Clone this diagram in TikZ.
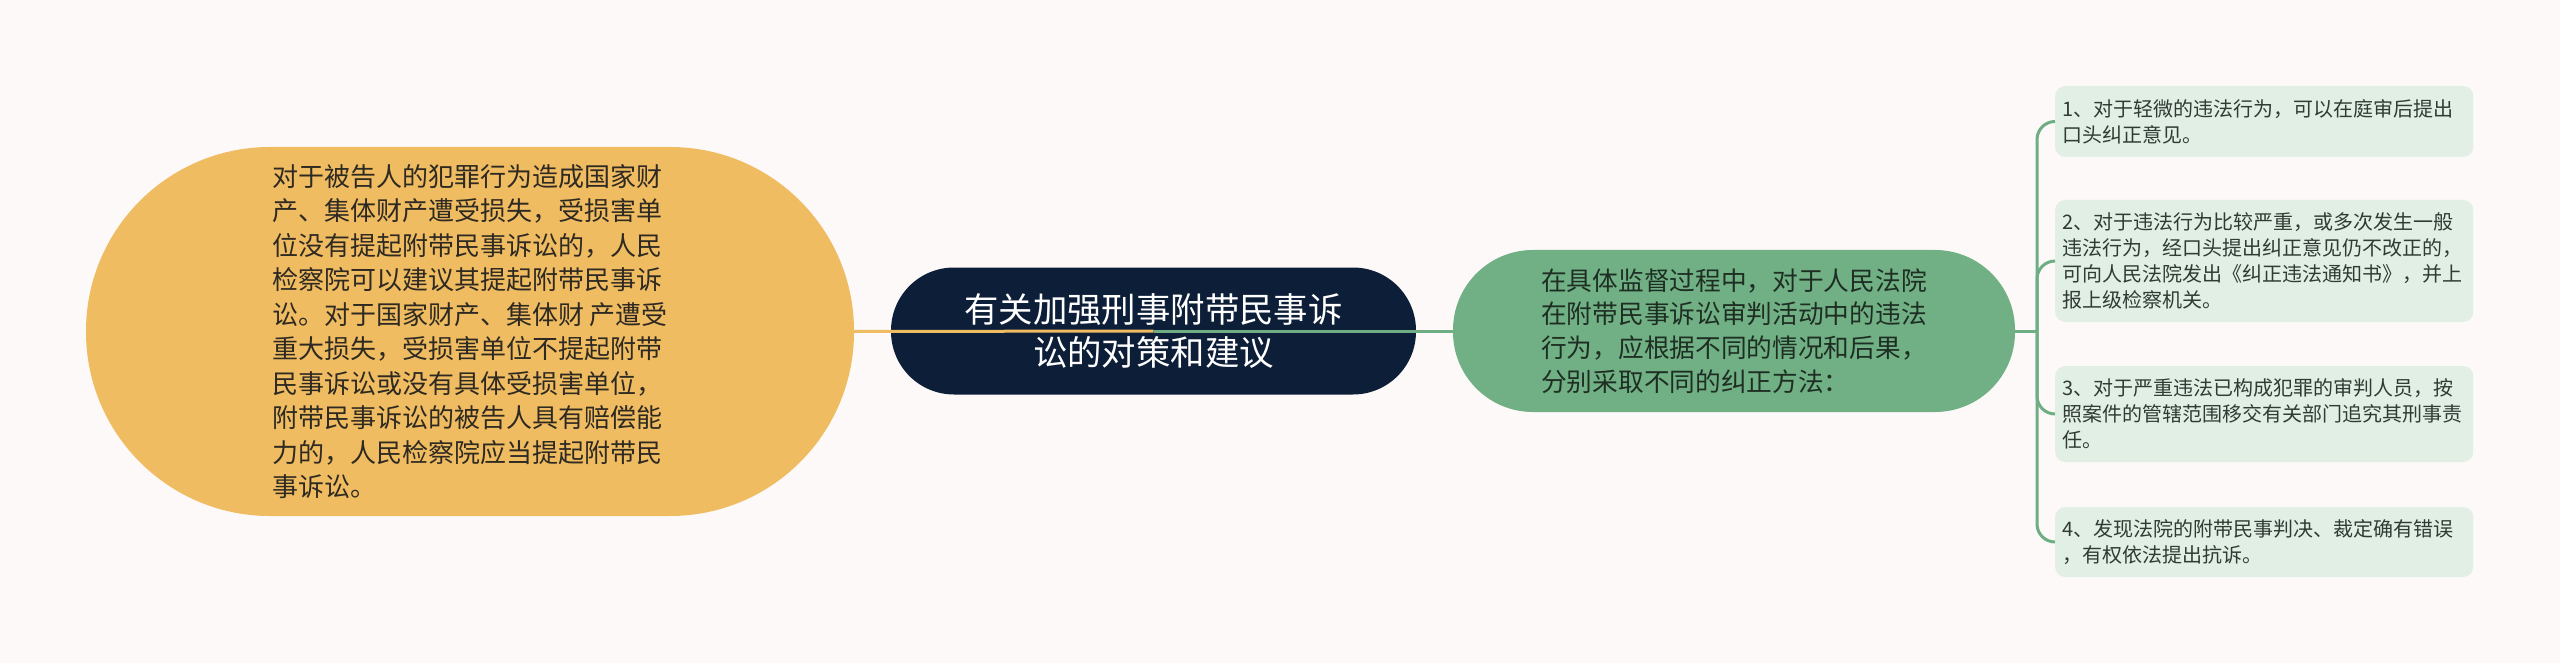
\documentclass[tikz,border=0pt]{standalone}
\usepackage{fontspec}
\setmainfont{Noto Sans CJK SC}
\definecolor{bgc}{HTML}{FCF9F8}
\definecolor{orfill}{HTML}{F0BC62}
\definecolor{navy}{HTML}{0D1E38}
\definecolor{grfill}{HTML}{70B084}
\definecolor{leaffill}{HTML}{E2EFE5}
\definecolor{orline}{HTML}{F0BC62}
\definecolor{grline}{HTML}{6FAE84}
\definecolor{ortext}{HTML}{2E2A22}
\definecolor{grtext}{HTML}{1E2E23}
\definecolor{leaftext}{HTML}{2F3B33}
\tikzset{
  orangenode/.style={fill=orfill, rounded corners=184pt, minimum width=768pt, minimum height=369pt,
    align=left, text=ortext, inner sep=0pt, font=\fontsize{26}{34.5}\selectfont},
  rootnode/.style={fill=navy, rounded corners=63pt, minimum width=525pt, minimum height=127pt,
    align=center, text=white, inner sep=0pt, font=\fontsize{34.4}{42.5}\selectfont},
  greennode/.style={fill=grfill, rounded corners=80pt, minimum width=562pt, minimum height=162pt,
    align=left, text=grtext, inner sep=0pt, font=\fontsize{25.7}{33.8}\selectfont},
  leafbox/.style={fill=leaffill, rounded corners=10pt, text width=404pt, inner xsep=7pt, inner ysep=2pt,
    align=left, text=leaftext, anchor=west, font=\fontsize{20}{26}\selectfont},
  oline/.style={draw=orline, line width=3pt},
  gline/.style={draw=grline, line width=3pt},
}
\begin{document}
\begin{tikzpicture}[x=1pt,y=-1pt]
\fill[bgc] (0,0) rectangle (2560,663);
\useasboundingbox (0,0) rectangle (2560,663);

\node[orangenode] (onode) at (470,331.5) {对于被告人的犯罪行为造成国家财\\产、集体财产遭受损失，受损害单\\位没有提起附带民事诉讼的，人民\\检察院可以建议其提起附带民事诉\\讼。对于国家财产、集体财 产遭受\\重大损失，受损害单位不提起附带\\民事诉讼或没有具体受损害单位，\\附带民事诉讼的被告人具有赔偿能\\力的，人民检察院应当提起附带民\\事诉讼。};

\node[rootnode] (root) at (1153.5,331) {有关加强刑事附带民事诉\\讼的对策和建议};

\node[greennode] (gnode) at (1734,331) {在具体监督过程中，对于人民法院\\在附带民事诉讼审判活动中的违法\\行为，应根据不同的情况和后果，\\分别采取不同的纠正方法：};

\node[leafbox, minimum height=71pt] (b1) at (2055,121.5) {1、对于轻微的违法行为，可以在庭审后提出\\口头纠正意见。};
\node[leafbox, minimum height=122pt] (b2) at (2055,261) {2、对于违法行为比较严重，或多次发生一般\\违法行为，经口头提出纠正意见仍不改正的，\\可向人民法院发出《纠正违法通知书》，并上\\报上级检察机关。};
\node[leafbox, minimum height=96pt] (b3) at (2055,414) {3、对于严重违法已构成犯罪的审判人员，按\\照案件的管辖范围移交有关部门追究其刑事责\\任。};
\node[leafbox, minimum height=70pt] (b4) at (2055,542) {4、发现法院的附带民事判决、裁定确有错误\\，有权依法提出抗诉。};

\coordinate (j) at (2037,331);

\draw[oline] (root.center) -- (onode.east);
\draw[gline] (root.center) -- (gnode.west);
\draw[gline] (gnode.east) -- (j);
\foreach \b in {b1,b2,b3,b4} {
  \draw[gline, rounded corners=18pt] (j) |- (\b.west);
}
\end{tikzpicture}
\end{document}
